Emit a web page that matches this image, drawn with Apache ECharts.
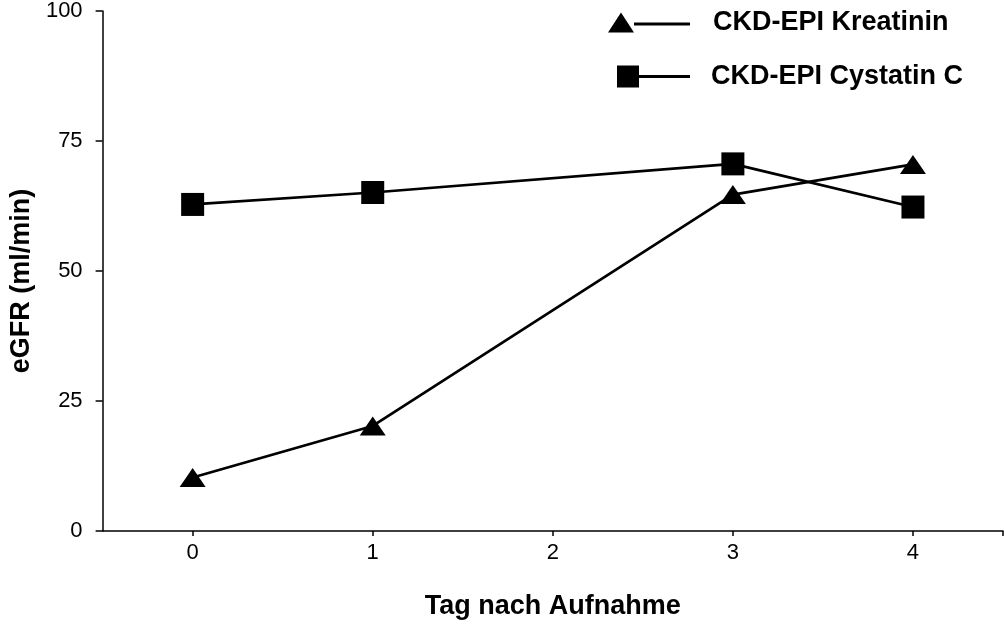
<!DOCTYPE html>
<html>
<head>
<meta charset="utf-8">
<script src="https://cdn.jsdelivr.net/npm/echarts@6/dist/echarts.min.js"></script>
<style>
html,body{margin:0;padding:0;background:#fff;}
#chart{width:1004px;height:626px;}
</style>
</head>
<body>
<div id="chart"></div>
<script>
const days = [0, 1, 3, 4];
const kreatinin = [10.3, 20.2, 64.7, 70.5];
const cystatin = [62.8, 65.1, 70.6, 62.3];
const xTickLabels = [0, 1, 2, 3, 4];
const yTickLabels = [0, 25, 50, 75, 100];
const seriesNames = ['CKD-EPI Kreatinin', 'CKD-EPI Cystatin C'];
const xTitle = 'Tag nach Aufnahme';
const yTitle = 'eGFR (ml/min)';

const FONT = '"Liberation Sans", Arial, sans-serif';
const chart = echarts.init(document.getElementById('chart'), null, {renderer: 'canvas'});

const pairs = (vals) => days.map((d, i) => [d, vals[i]]);

const legendText = {fontFamily: FONT, fontSize: 27, fontWeight: 'bold', color: '#000', padding: [0, 0, 0, 18]};

chart.setOption({
  animation: false,
  backgroundColor: '#fff',
  grid: {left: 99, right: 1, top: 9, bottom: 95, containLabel: false},
  legend: [
    {
      data: [{name: seriesNames[0], icon: 'path://M0 20 L13 0 L26 20 Z M26 10 L82 10 L82 13 L26 13 Z'}],
      left: 603, top: 4, itemWidth: 82, itemHeight: 20,
      itemStyle: {borderWidth: 0},
      textStyle: Object.assign({}, legendText, {padding: [4, 0, 0, 18]}), selectedMode: false
    },
    {
      data: [{name: seriesNames[1], icon: 'path://M0 0 L22 0 L22 22 L0 22 Z M22 9.5 L73 9.5 L73 12.5 L22 12.5 Z'}],
      left: 612, top: 58, itemWidth: 73, itemHeight: 22,
      itemStyle: {borderWidth: 0},
      textStyle: Object.assign({}, legendText, {padding: [0, 0, 0, 16]}), selectedMode: false
    }
  ],
  xAxis: {
    type: 'value', min: -0.5, max: 4.5,
    name: xTitle, nameLocation: 'middle', nameGap: 62,
    nameTextStyle: {fontFamily: FONT, fontSize: 27, fontWeight: 'bold', color: '#000'},
    axisLine: {show: true, onZero: false, lineStyle: {color: '#000', width: 1.5}},
    axisTick: {show: true, length: 5, lineStyle: {color: '#000', width: 1.5}, customValues: xTickLabels.concat([4.5])},
    axisLabel: {fontFamily: FONT, fontSize: 22, color: '#000', margin: 11, customValues: xTickLabels},
    splitLine: {show: false}
  },
  yAxis: {
    type: 'value', min: 0, max: 100, interval: 25,
    name: yTitle, nameLocation: 'middle', nameGap: 66, nameRotate: 90,
    nameTextStyle: {fontFamily: FONT, fontSize: 27, fontWeight: 'bold', color: '#000', padding: [0, 20, 0, 0]},
    axisLine: {show: true, onZero: false, lineStyle: {color: '#000', width: 1.5}},
    axisTick: {show: true, length: 7, lineStyle: {color: '#000', width: 1.5}},
    axisLabel: {fontFamily: FONT, fontSize: 22, color: '#000', margin: 20, customValues: yTickLabels},
    splitLine: {show: false}
  },
  series: [
    {
      name: seriesNames[0], type: 'line', data: pairs(kreatinin),
      symbol: 'triangle', symbolSize: [26, 19],
      itemStyle: {color: '#000'},
      lineStyle: {color: '#000', width: 2.7}
    },
    {
      name: seriesNames[1], type: 'line', data: pairs(cystatin),
      symbol: 'rect', symbolSize: [23, 23],
      itemStyle: {color: '#000'},
      lineStyle: {color: '#000', width: 2.7}
    }
  ]
});
</script>
</body>
</html>
